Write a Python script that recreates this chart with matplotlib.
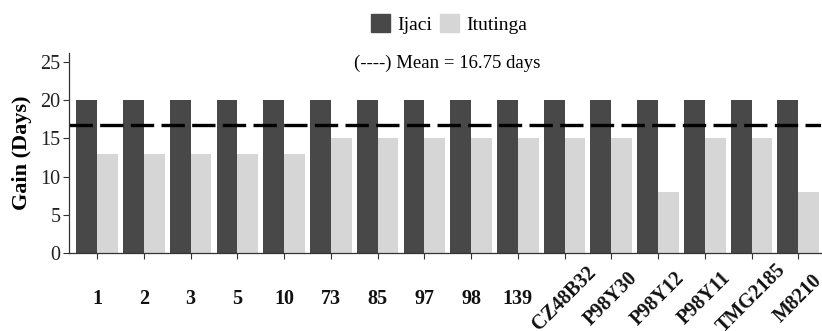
import numpy as np
import matplotlib.pyplot as plt
from matplotlib.patches import Patch

plt.rcParams['font.family'] = ['Liberation Serif', 'DejaVu Serif']

# genotipos y ganancia en dias por localidad
genotipos = ['1', '2', '3', '5', '10', '73', '85', '97', '98', '139',
             'CZ48B32', 'P98Y30', 'P98Y12', 'P98Y11', 'TMG2185', 'M8210']
ijaci = [20, 20, 20, 20, 20, 20, 20, 20, 20, 20, 20, 20, 20, 20, 20, 20]
itutinga = [13, 13, 13, 13, 13, 15, 15, 15, 15, 15, 15, 15, 8, 15, 15, 8]

media = np.mean(ijaci + itutinga)

c_ijaci = '#484848'
c_itut = '#d6d6d6'

fig = plt.figure(figsize=(8.22, 3.31), dpi=100)
ax = fig.add_axes([0.084, 0.236, 0.915, 0.604])

x = np.arange(len(genotipos))
w = 0.445
ax.bar(x - w/2, ijaci, width=w, color=c_ijaci)
ax.bar(x + w/2, itutinga, width=w, color=c_itut)
ax.axhline(media, color='black', lw=2.4, dashes=(7, 2.2))

ax.set_xlim(-0.6, 15.49)
ax.set_ylim(0, 26.2)
ax.set_yticks([0, 5, 10, 15, 20, 25])
ax.tick_params(axis='y', labelsize=14.5, length=4, width=0.8, pad=2,
               colors='#333333', labelcolor='#222222')
ax.tick_params(axis='x', length=4, width=0.8, colors='#333333')

# etiquetas: numeros horizontales, nombres comerciales a 45 grados
ax.set_xticks(x)
ax.set_xticklabels([])
for xi, g in zip(x, genotipos):
    rot = 0 if g.isdigit() else 45
    ax.text(xi, -6.0, g, rotation=rot, rotation_mode='anchor', ha='center', va='center',
            fontsize=14.5, fontweight='bold', color='#111111', clip_on=False)

for s in ['top', 'right']:
    ax.spines[s].set_visible(False)
for s in ['left', 'bottom']:
    ax.spines[s].set_color('#333333')
    ax.spines[s].set_linewidth(0.9)

ax.set_ylabel('Gain (Days)', fontsize=16, fontweight='bold', labelpad=6)

handles = [Patch(color=c_ijaci, label='Ijaci'), Patch(color=c_itut, label='Itutinga')]
fig.legend(handles=handles, loc='center', bbox_to_anchor=(0.546, 0.927), ncol=2,
           frameon=False, fontsize=14, handlelength=1.0, handleheight=1.0,
           handletextpad=0.35, columnspacing=0.4)

fig.text(0.544, 0.81, '(----) Mean = %.2f days' % media, ha='center', va='center', fontsize=13.5)

fig.savefig('out.png', dpi=100)
